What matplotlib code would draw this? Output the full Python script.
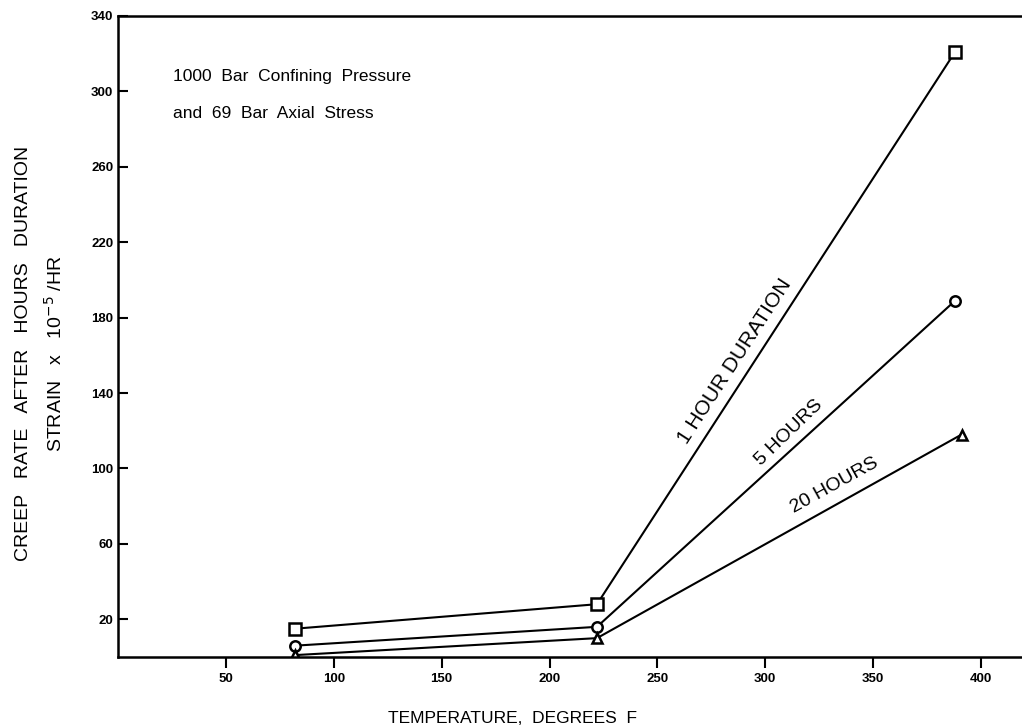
import matplotlib
matplotlib.use('Agg')
import matplotlib.pyplot as plt

plt.rcParams['font.family'] = ['Liberation Sans', 'DejaVu Sans']

# temperatures (deg F) and creep rates (strain x 1e-5 / hr)
temp_1h = [82, 222, 388]
rate_1h = [15, 28, 321]
temp_5h = [82, 222, 388]
rate_5h = [6, 16, 189]
temp_20h = [82, 222, 391]
rate_20h = [1, 10, 118]

yticks = [20, 60, 100, 140, 180, 220, 260, 300, 340]
xticks = [50, 100, 150, 200, 250, 300, 350, 400]

fig = plt.figure(figsize=(10.22, 7.27), dpi=100)
ax = fig.add_axes([0.1155, 0.0963, 0.8845, 0.8817])

ax.plot(temp_1h, rate_1h, color='black', lw=1.5, marker='s', ms=8,
        mfc='white', mec='black', mew=1.8)
ax.plot(temp_5h, rate_5h, color='black', lw=1.5, marker='o', ms=7.5,
        mfc='white', mec='black', mew=1.8)
ax.plot(temp_20h, rate_20h, color='black', lw=1.5, marker='^', ms=6.5,
        mfc='white', mec='black', mew=1.8)

ax.set_xlim(0, 419)
ax.set_ylim(0, 340)
ax.set_xticks(xticks)
ax.set_yticks(yticks)
ax.tick_params(axis='y', direction='in', length=7, width=1.5, labelsize=9.5)
ax.tick_params(axis='x', direction='out', length=8, width=1.5, labelsize=9.5)
for lab in ax.get_xticklabels() + ax.get_yticklabels():
    lab.set_fontweight('bold')

ax.spines['right'].set_visible(False)
for s in ['left', 'bottom', 'top']:
    ax.spines[s].set_linewidth(1.8)

ax.text(25.5, 308, '1000  Bar  Confining  Pressure', fontsize=12.5, va='center')
ax.text(25.5, 288.5, 'and  69  Bar  Axial  Stress', fontsize=12.5, va='center')

ax.text(286, 157, '1 HOUR DURATION', fontsize=15, rotation=57,
        ha='center', va='center', rotation_mode='anchor')
ax.text(311, 119, '5 HOURS', fontsize=14, rotation=44,
        ha='center', va='center', rotation_mode='anchor')
ax.text(332, 91, '20 HOURS', fontsize=14, rotation=29,
        ha='center', va='center', rotation_mode='anchor')

fig.text(0.023, 0.514, 'CREEP   RATE   AFTER   HOURS   DURATION', rotation=90,
         fontsize=14, ha='center', va='center')
fig.text(0.054, 0.514, 'STRAIN   x   10$^{-5}$ /HR', rotation=90,
         fontsize=14, ha='center', va='center')
fig.text(0.501, 0.012, 'TEMPERATURE,  DEGREES  F', fontsize=12.5,
         ha='center', va='center')

fig.savefig('out.png', dpi=100)
